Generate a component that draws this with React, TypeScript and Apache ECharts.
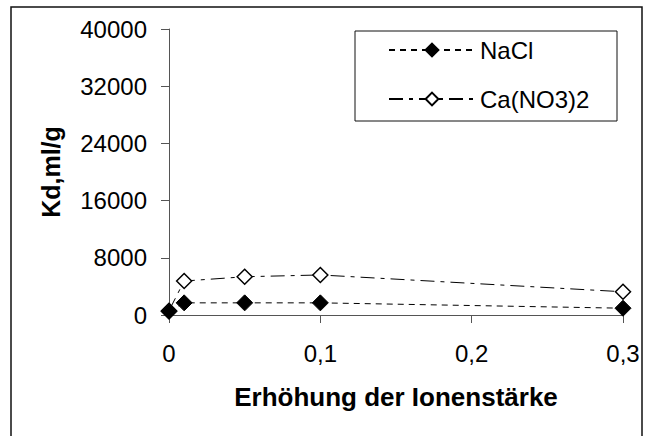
import React, { useEffect, useRef } from "react";
import * as echarts from "echarts";

const xValues = [0, 0.01, 0.05, 0.1, 0.3];
const naclValues = [500, 1700, 1700, 1700, 950];
const caValues = [600, 4750, 5350, 5600, 3250];
const seriesNames = ["NaCl", "Ca(NO3)2"];
const xTitle = "Erhöhung der Ionenstärke";
const yTitle = "Kd,ml/g";

export default function App() {
  const ref = useRef<HTMLDivElement>(null);
  useEffect(() => {
    if (!ref.current) return;
    const chart = echarts.init(ref.current, null, { renderer: "svg" });
    const font = "'Liberation Sans', Arial, sans-serif";
    chart.setOption({
      animation: false,
      backgroundColor: "#fff",
      textStyle: { fontFamily: font },
      grid: { left: 169, right: 33, top: 29, bottom: 121, containLabel: false },
      graphic: [
        {
          type: "rect",
          shape: { x: 11, y: 7, width: 631, height: 440 },
          style: { fill: "none", stroke: "#111", lineWidth: 1.5 },
          z: 0,
        },
        {
          type: "rect",
          shape: { x: 355, y: 31, width: 262, height: 90 },
          style: { fill: "#fff", stroke: "#111", lineWidth: 1 },
          z: 1,
        },
      ],
      legend: {
        orient: "vertical",
        left: 388,
        top: 38,
        itemWidth: 86,
        itemHeight: 16,
        itemGap: 25,
        padding: 0,
        z: 10,
        textStyle: { fontSize: 24, color: "#000", fontFamily: font },
        data: seriesNames,
      },
      xAxis: {
        type: "value",
        min: 0,
        max: 0.3,
        interval: 0.1,
        name: xTitle,
        nameLocation: "middle",
        nameGap: 69,
        nameTextStyle: { fontSize: 26, fontWeight: "bold", color: "#000", fontFamily: font },
        axisLine: { lineStyle: { color: "#555", width: 1 } },
        axisTick: { show: true, length: 8, inside: false, lineStyle: { color: "#555" } },
        axisLabel: {
          fontSize: 24,
          color: "#000",
          margin: 26,
          formatter: (v: number) => (v === 0 ? "0" : v.toFixed(1).replace(".", ",")),
        },
        splitLine: { show: false },
      },
      yAxis: {
        type: "value",
        min: 0,
        max: 40000,
        interval: 8000,
        name: yTitle,
        nameLocation: "middle",
        nameGap: 106,
        nameTextStyle: { fontSize: 25, fontWeight: "bold", color: "#000", fontFamily: font },
        axisLine: { show: true, lineStyle: { color: "#555", width: 1 } },
        axisTick: { show: true, length: 8, inside: false, lineStyle: { color: "#555" } },
        axisLabel: { fontSize: 24, color: "#000", margin: 22, formatter: (v: number) => String(v) },
        splitLine: { show: false },
      },
      series: [
        {
          name: seriesNames[1],
          type: "line",
          data: xValues.map((x, i) => [x, caValues[i]]),
          symbol: "diamond",
          symbolSize: 15,
          itemStyle: { color: "#fff", borderColor: "#000", borderWidth: 1.5 },
          lineStyle: { color: "#000", width: 1, type: [14, 6, 4, 6] },
          z: 3,
        },
        {
          name: seriesNames[0],
          type: "line",
          data: xValues.map((x, i) => [x, naclValues[i]]),
          symbol: "diamond",
          symbolSize: 16,
          itemStyle: { color: "#000", borderColor: "#000", borderWidth: 1 },
          lineStyle: { color: "#000", width: 1, type: [6, 5] },
          z: 4,
        },
      ],
    });
    return () => chart.dispose();
  }, []);
  return (
    <div
      ref={ref}
      style={{ position: "fixed", left: 0, top: 0, width: 656, height: 436 }}
    />
  );
}
